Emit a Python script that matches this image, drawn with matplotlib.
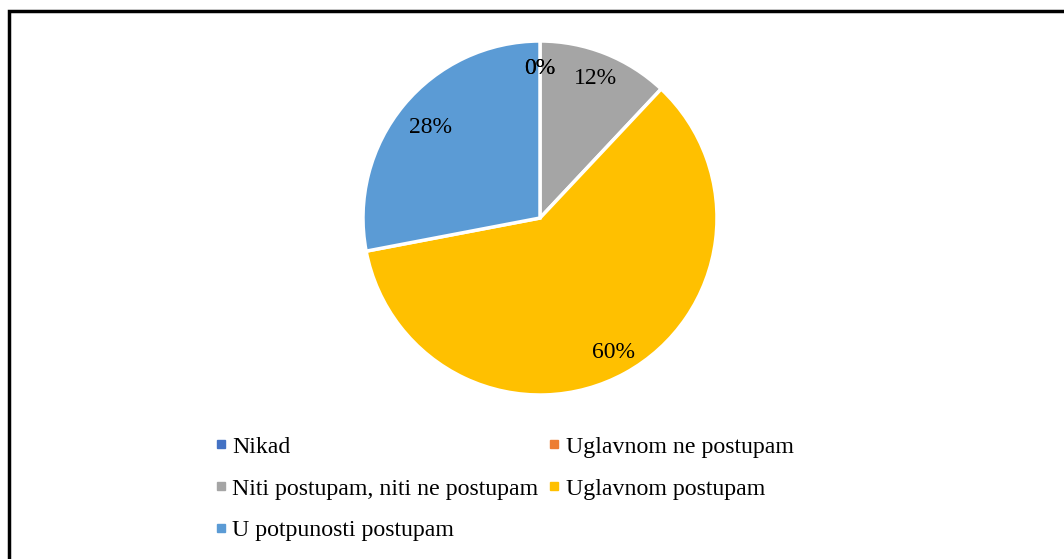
import numpy as np
import matplotlib.pyplot as plt
from matplotlib.lines import Line2D
from matplotlib.patches import Rectangle

plt.rc('font', family=['Liberation Serif', 'DejaVu Serif'], size=17.2)

categories = ['Nikad', 'Uglavnom ne postupam', 'Niti postupam, niti ne postupam',
              'Uglavnom postupam', 'U potpunosti postupam']
shares = [0, 0, 12, 60, 28]
colors = ['#4472C4', '#ED7D31', '#A5A5A5', '#FFC000', '#5B9BD5']
label_dist = [0.845, 0.845, 0.845, 0.865, 0.80]

W, H = 1064, 559
fig = plt.figure(figsize=(W / 100, H / 100), dpi=100)

# outer frame (right/bottom edges fall outside the picture)
fig.patches.append(Rectangle((9 / W, -0.1), 1.2, 1 - 11 / H + 0.1, transform=fig.transFigure,
                             fill=False, edgecolor='black', linewidth=2.5))

cx, cy, r = 540, 218, 177
ax = fig.add_axes([(cx - r) / W, (H - cy - r) / H, 2 * r / W, 2 * r / H])
wedges, texts, autotexts = ax.pie(
    shares, colors=colors, startangle=90, counterclock=False, radius=1,
    autopct='%1.0f%%', pctdistance=0.86,
    wedgeprops=dict(edgecolor='white', linewidth=2.5))
# nudge each percent label to its own distance from the centre
for w, t, d in zip(wedges, autotexts, label_dist):
    ang = np.deg2rad(0.5 * (w.theta1 + w.theta2))
    t.set_position((d * np.cos(ang), d * np.sin(ang)))
    t.set_fontsize(17)
ax.set_xlim(-1, 1)
ax.set_ylim(-1, 1)
ax.set_aspect('equal')
ax.axis('off')

handles = [Line2D([], [], linestyle='none', marker='s', markersize=5.5,
                  markerfacecolor=c, markeredgecolor=c) for c in colors]
order = [0, 2, 4, 1, 3]
fig.legend([handles[i] for i in order], [categories[i] for i in order],
           ncol=2, loc='upper left', bbox_to_anchor=(215 / W, 1 - 436 / H),
           frameon=False, handlelength=0.5, handletextpad=0.22,
           columnspacing=0.42, labelspacing=0.84, borderpad=0, borderaxespad=0)

fig.savefig('out.png', dpi=100)
